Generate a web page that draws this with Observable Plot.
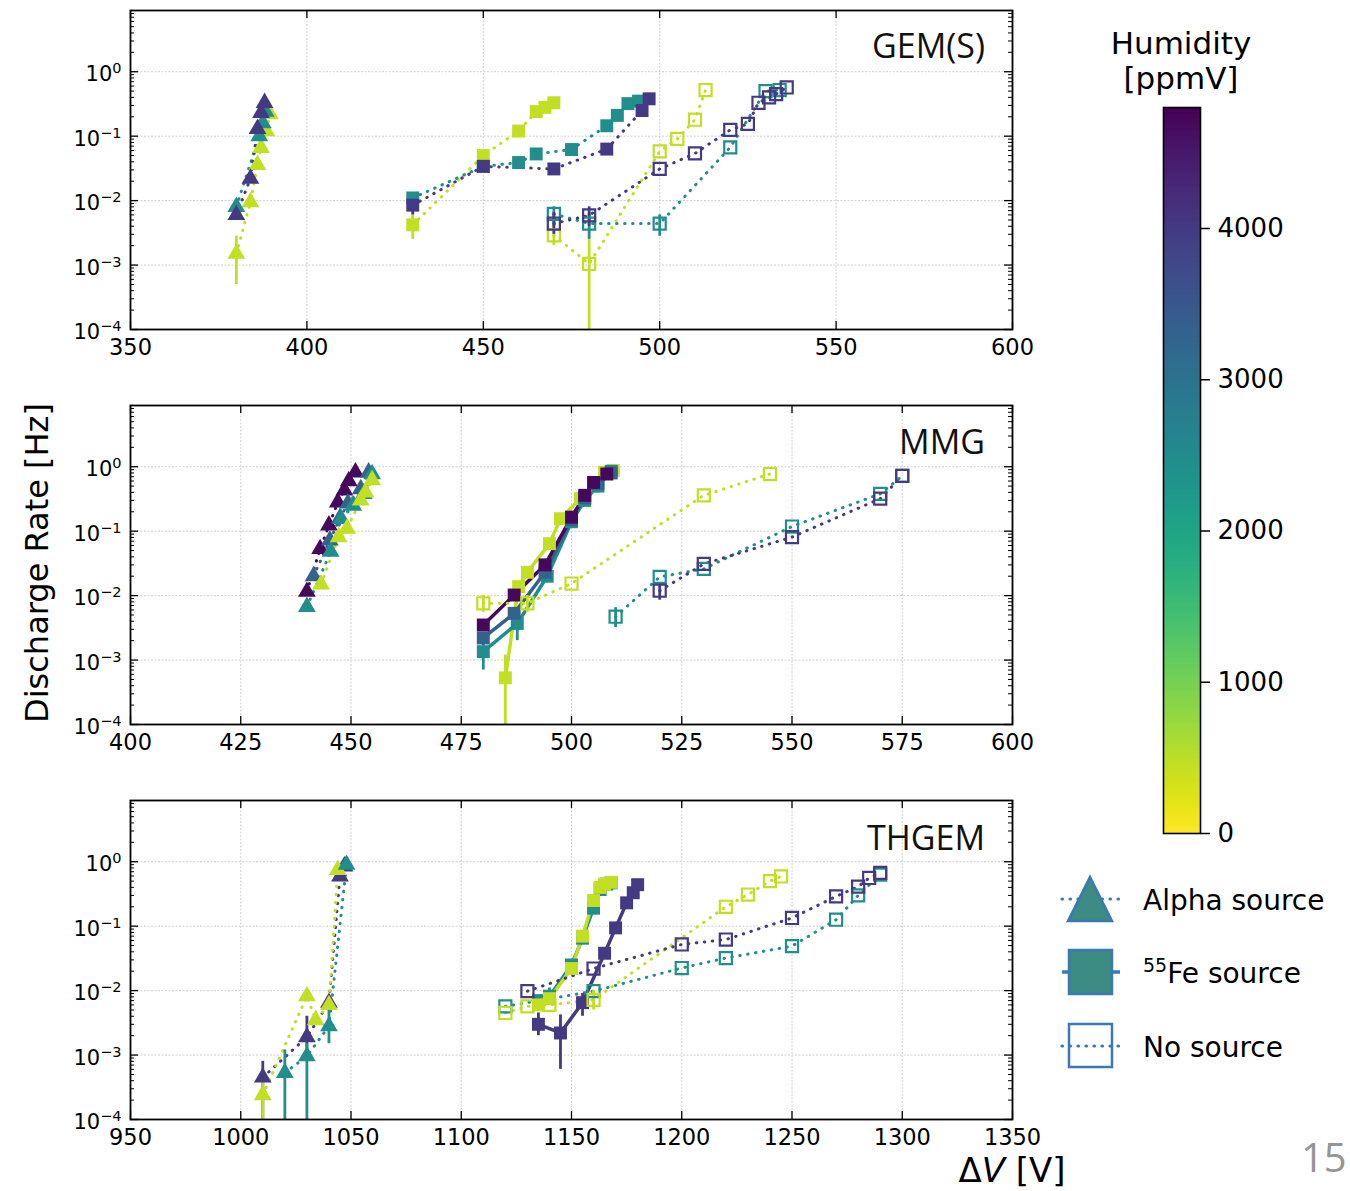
<!DOCTYPE html>
<html><head><meta charset="utf-8">
<script src="https://cdn.jsdelivr.net/npm/d3@7"></script>
<script src="https://cdn.jsdelivr.net/npm/@observablehq/plot@0.6"></script>
<style>
body{margin:0;background:#fff;}
#root{position:relative;width:1350px;height:1191px;font-family:"DejaVu Sans",sans-serif;overflow:hidden;background:#fff;}
.abs{position:absolute;white-space:nowrap;}
</style></head><body><div id="root"></div>
<script>
// rows: [humidity ppmV, ΔV (V), discharge rate (Hz), errLow, errHigh]
const gemAlpha = [
 [450,380,0.0015,0.0005,0.0028],[450,384,0.0095],[450,386,0.036],[450,387,0.066],[450,388.5,0.12],[450,389.5,0.22],
 [2450,380,0.008],[2450,386.5,0.1],[2450,387.5,0.16],[2450,388.3,0.24],
 [4000,380,0.006],[4000,384,0.022],[4000,386,0.13],[4000,387,0.23],[4000,388,0.33]
];
const gemFe = [
 [450,430,0.0042,0.0025,0.0065],[450,450,0.05],[450,460,0.12],[450,465,0.24],[450,467.5,0.28],[450,470,0.33],
 [2450,430,0.011],[2450,450,0.034],[2450,460,0.039],[2450,465,0.053],[2450,475,0.062],[2450,485,0.145],[2450,488,0.21],[2450,491,0.32],[2450,494,0.35],
 [4000,430,0.0085,0.006,0.011],[4000,450,0.034],[4000,470,0.031],[4000,485,0.063],[4000,495,0.25],[4000,497,0.38]
];
const gemNone = [
 [450,470,0.0029,0.002,0.004],[450,480,0.00104,0.00001,0.0025],[450,500,0.058],[450,505,0.091],[450,510,0.18],[450,513,0.52],
 [2450,470,0.0062,0.004,0.008],[2450,480,0.0044,0.0025,0.0065],[2450,500,0.0044,0.0028,0.006],[2450,520,0.067],[2450,530,0.5],[2450,534,0.52],
 [4000,470,0.0044,0.003,0.0065],[4000,480,0.0059,0.004,0.008],[4000,500,0.031],[4000,510,0.054],[4000,520,0.125],[4000,525,0.155],[4000,528,0.33],[4000,531,0.4],[4000,533,0.45],[4000,536,0.57]
];
const mmgAlpha = [
 [4700,440,0.0115],[4700,443,0.053],[4700,445,0.123],[4700,447,0.28],[4700,448.5,0.43],[4700,449.5,0.6],[4700,451,0.82],
 [3300,441.5,0.02],[3300,445.2,0.072],[3300,447.5,0.16],[3300,449.3,0.27],[3300,452.2,0.45],[3300,454,0.82],
 [2450,440,0.0067],[2450,445.4,0.048],[2450,447.8,0.155],[2450,450.5,0.25],[2450,452.9,0.38],[2450,454.8,0.77],
 [450,443.2,0.015],[450,447.2,0.081],[450,449.1,0.11],[450,452.2,0.3],[450,453.3,0.4],[450,454.8,0.62]
];
const mmgFe = [
 [450,485,0.00053,0.00001,0.0012],[450,488,0.0138],[450,490,0.023],[450,495,0.064],[450,497.5,0.156],[450,502,0.32],[450,505,0.5],[450,507.5,0.82],[450,509.5,0.87],
 [2450,480,0.00135,0.0007,0.002],[2450,487.7,0.0037,0.002,0.0055],[2450,494.5,0.02],[2450,500,0.14],[2450,503,0.3],[2450,506,0.5],[2450,509,0.85],
 [3300,480,0.0022],[3300,487,0.0053],[3300,494,0.023],[3300,500,0.15],[3300,503,0.33],[3300,506,0.55],[3300,509,0.8],
 [4700,480,0.0035],[4700,487,0.0102],[4700,494,0.03],[4700,500,0.165],[4700,503,0.36],[4700,505,0.57],[4700,508,0.77]
];
const mmgNone = [
 [450,480,0.0076,0.0055,0.01],[450,490,0.0076,0.0055,0.01],[450,500,0.0154],[450,530,0.36],[450,545,0.77],
 [2450,510,0.0047,0.0032,0.0065],[2450,520,0.0195],[2450,530,0.026],[2450,550,0.118],[2450,570,0.38],[2450,575,0.72],
 [4000,520,0.0119,0.0085,0.016],[4000,530,0.031],[4000,550,0.081],[4000,570,0.32],[4000,575,0.72]
];
const thAlpha = [
 [4000,1010,0.00045,0.00001,0.0008],[4000,1030,0.0019,0.001,0.004],[4000,1040,0.0065],[4000,1045,0.59],[4000,1047,0.85],
 [450,1010,0.00024,0.00001,0.0004],[450,1030,0.0082],[450,1034,0.0035],[450,1040,0.006],[450,1044,0.75],
 [2450,1020,0.00053,0.00001,0.0012],[2450,1030,0.00096,0.00001,0.0015],[2450,1040,0.0028,0.0015,0.005],[2450,1048,0.9]
];
const thFe = [
 [2450,1135,0.007],[2450,1140,0.0082,0.006,0.011],[2450,1150,0.025],[2450,1155,0.065],[2450,1160,0.19],[2450,1163,0.37],[2450,1166,0.45],[2450,1168,0.47],
 [450,1135,0.006],[450,1140,0.0075],[450,1150,0.022],[450,1155,0.07],[450,1160,0.25],[450,1163,0.4],[450,1165,0.45],[450,1168,0.48],
 [4000,1135,0.003,0.002,0.0045],[4000,1145,0.0022,0.0006,0.0042],[4000,1155,0.0065,0.004,0.009],[4000,1165,0.038],[4000,1170,0.094],[4000,1175,0.23],[4000,1178,0.33],[4000,1180,0.44]
];
const thNone = [
 [2450,1120,0.0057],[2450,1160,0.0098],[2450,1200,0.0224],[2450,1220,0.032],[2450,1250,0.049],[2450,1270,0.126],[2450,1280,0.3],[2450,1290,0.63],
 [450,1120,0.0045],[450,1130,0.0057],[450,1140,0.006],[450,1160,0.0072,0.005,0.01],[450,1220,0.2],[450,1230,0.31],[450,1240,0.5],[450,1245,0.59],
 [4000,1130,0.0098],[4000,1160,0.022],[4000,1200,0.052],[4000,1220,0.062],[4000,1250,0.134],[4000,1270,0.29],[4000,1280,0.41],[4000,1285,0.56],[4000,1290,0.67]
];
const gemTicks = [350,400,450,500,550,600];
const mmgTicks = [400,425,450,475,500,525,550,575,600];
const thTicks = [950,1000,1050,1100,1150,1200,1250,1300,1350];
const yMajor = [1e-4,1e-3,1e-2,1e-1,1];
const cbTicks = [0,1000,2000,3000,4000];
const humidityMax = 4800;

const root = document.getElementById("root");
const colorOpts = {type:"linear", scheme:"viridis", reverse:true, domain:[0,humidityMax]};
const yTop = Math.pow(10,0.95);
const yMinor = [];
for (let e=-4;e<=0;e++) for (let k=2;k<=9;k++){ const v=k*Math.pow(10,e); if (v<yTop) yMinor.push(v); }

function rows(a){ return a.map(([h,x,y,lo,hi])=>({h,x,y,lo,hi})); }

function panel(opts){
  const W=1030,H=360,mL=130,mR=18,mT=10,mB=31;
  const pw=W-mL-mR, ph=H-mT-mB;
  const A=rows(opts.alpha), F=rows(opts.fe), N=rows(opts.none);
  const errs=[...A,...F,...N].filter(d=>d.lo!=null);
  const dotted={strokeWidth:3, strokeDasharray:"0.5,7.5", strokeLinecap:"round"};
  const feLine = opts.feDotted ? dotted : {strokeWidth:3.5};
  const svg = Plot.plot({
    width:W,height:H,marginLeft:mL,marginRight:mR,marginTop:mT,marginBottom:mB,
    x:{domain:opts.domain},
    y:{type:"log",domain:[1e-4,yTop]},
    color:colorOpts,
    style:{fontFamily:"DejaVu Sans",fontSize:"22px",background:"transparent",color:"black",overflow:"visible"},
    marks:[
      Plot.gridX(opts.ticks,{stroke:"#d0d0d0",strokeOpacity:1,strokeWidth:1,strokeDasharray:"2,1.5"}),
      Plot.gridY(yMajor,{stroke:"#d0d0d0",strokeOpacity:1,strokeWidth:1,strokeDasharray:"2,1.5"}),
      Plot.line(A,{x:"x",y:"y",z:"h",stroke:"h",...dotted}),
      Plot.line(F,{x:"x",y:"y",z:"h",stroke:"h",...feLine}),
      Plot.line(N,{x:"x",y:"y",z:"h",stroke:"h",...dotted}),
      Plot.ruleX(errs,{x:"x",y1:"lo",y2:"hi",stroke:"h",strokeWidth:2.8,clip:true}),
      Plot.dot(A,{x:"x",y:"y",fill:"h",symbol:"triangle",r:6.6}),
      Plot.dot(F,{x:"x",y:"y",fill:"h",symbol:"square",r:7.3}),
      Plot.dot(N,{x:"x",y:"y",stroke:"h",fill:"none",symbol:"square",r:6.8,strokeWidth:2.2}),
      Plot.tickY(yMajor,{y:d=>d,insetRight:pw-8,stroke:"black",strokeWidth:1.3}),
      Plot.tickY(yMajor,{y:d=>d,insetLeft:pw-8,stroke:"black",strokeWidth:1.3}),
      Plot.tickY(yMinor,{y:d=>d,insetRight:pw-4,stroke:"black",strokeWidth:1}),
      Plot.tickY(yMinor,{y:d=>d,insetLeft:pw-4,stroke:"black",strokeWidth:1}),
      Plot.tickX(opts.ticks,{x:d=>d,insetTop:ph-8,stroke:"black",strokeWidth:1.3}),
      Plot.tickX(opts.ticks,{x:d=>d,insetBottom:ph-8,stroke:"black",strokeWidth:1.3}),
      Plot.frame({stroke:"black",strokeWidth:1.8}),
      Plot.axisX(opts.ticks,{tickSize:0,tickPadding:10,fontSize:22.5,label:null,tickFormat:d=>String(d)}),
      Plot.axisY(yMajor,{tickSize:0,tickPadding:9,fontSize:21,label:null,dy:3,
        tickFormat:d=>{const e=Math.round(Math.log10(d)); return e<0?"\u2212"+(-e):""+e;}})
    ]
  });
  svg.querySelectorAll('[aria-label^="y-axis tick label"] text').forEach(t=>{
    const e=t.textContent; t.textContent="10";
    const ts=document.createElementNS("http://www.w3.org/2000/svg","tspan");
    ts.setAttribute("dy","-8"); ts.setAttribute("font-size","14.5"); ts.textContent=e;
    t.appendChild(ts);
  });
  svg.style.position="absolute"; svg.style.left="0px"; svg.style.top=opts.top+"px";
  root.appendChild(svg);
  const lab=document.createElement("div");
  lab.className="abs";
  lab.textContent=opts.label;
  lab.style.cssText=`font-family:'Open Sans',sans-serif;font-size:34px;line-height:34px;right:${1350-985}px;top:${opts.labelTop}px;color:#111;`;
  root.appendChild(lab);
}

panel({alpha:gemAlpha,fe:gemFe,none:gemNone,domain:[350,600],ticks:gemTicks,feDotted:true,top:0,label:"GEM(S)",labelTop:28});
panel({alpha:mmgAlpha,fe:mmgFe,none:mmgNone,domain:[400,600],ticks:mmgTicks,feDotted:false,top:395,label:"MMG",labelTop:424});
panel({alpha:thAlpha,fe:thFe,none:thNone,domain:[950,1350],ticks:thTicks,feDotted:false,top:790,label:"THGEM",labelTop:820});

// colorbar
const step=8;
const cb = Plot.plot({
  width:220,height:760,marginLeft:63,marginRight:120,marginTop:7,marginBottom:27,
  x:{domain:[0,1],axis:null},
  y:{domain:[0,humidityMax],axis:null},
  color:colorOpts,
  style:{fontFamily:"DejaVu Sans",fontSize:"26px",background:"transparent",color:"black",overflow:"visible"},
  marks:[
    Plot.rect(d3.range(0,humidityMax,step),{x1:0,x2:1,y1:d=>d,y2:d=>Math.min(humidityMax,d+step*1.6),fill:d=>d+step/2,shapeRendering:"crispEdges"}),
    Plot.frame({stroke:"black",strokeWidth:1.6}),
    Plot.axisY(cbTicks,{anchor:"right",tickSize:9,tickPadding:8,fontSize:26,label:null,strokeWidth:1.5,tickFormat:d=>String(d)})
  ]
});
cb.style.position="absolute"; cb.style.left="1100px"; cb.style.top="100px";
root.appendChild(cb);

function addDiv(html,css){ const d=document.createElement("div"); d.className="abs"; d.innerHTML=html; d.style.cssText+=css; root.appendChild(d); return d; }
addDiv("Humidity<br>[ppmV]","left:1081px;top:26px;width:200px;text-align:center;font-size:31px;line-height:35px;");
addDiv("Discharge Rate [Hz]","left:-163px;top:543px;width:400px;height:40px;line-height:40px;text-align:center;font-size:32px;transform:rotate(-90deg);");
addDiv("\u0394<i>V</i> [V]","left:912px;top:1153px;width:200px;text-align:center;font-size:34px;line-height:34px;");
addDiv("15","left:1301px;top:1137px;font-family:'Open Sans',sans-serif;font-size:40px;line-height:40px;color:#959595;");

// legend
const ns="http://www.w3.org/2000/svg";
const lg=document.createElementNS(ns,"svg");
lg.setAttribute("width","310"); lg.setAttribute("height","220");
lg.style.cssText="position:absolute;left:1040px;top:860px;";
const legFill="#3b8b82", legEdge="#3b78b6";
lg.innerHTML=`
<line x1="22" y1="39" x2="80" y2="39" stroke="${legEdge}" stroke-width="3.2" stroke-dasharray="0.5,7.5" stroke-linecap="round"/>
<polygon points="50,17 28,61 72,61" fill="${legFill}" stroke="${legEdge}" stroke-width="2.5"/>
<text x="103" y="50" font-family="DejaVu Sans" font-size="28">Alpha source</text>
<line x1="22" y1="112" x2="80" y2="112" stroke="${legEdge}" stroke-width="3.5"/>
<rect x="29" y="90" width="43" height="44" fill="${legFill}" stroke="${legEdge}" stroke-width="2.5"/>
<text x="103" y="123" font-family="DejaVu Sans" font-size="28"><tspan font-size="19" dy="-11">55</tspan><tspan dy="11">Fe source</tspan></text>
<line x1="22" y1="186" x2="80" y2="186" stroke="${legEdge}" stroke-width="3.2" stroke-dasharray="0.5,7.5" stroke-linecap="round"/>
<rect x="29" y="164" width="43" height="43" fill="none" stroke="${legEdge}" stroke-width="2.5"/>
<text x="103" y="197" font-family="DejaVu Sans" font-size="28">No source</text>`;
root.appendChild(lg);
</script></body></html>
